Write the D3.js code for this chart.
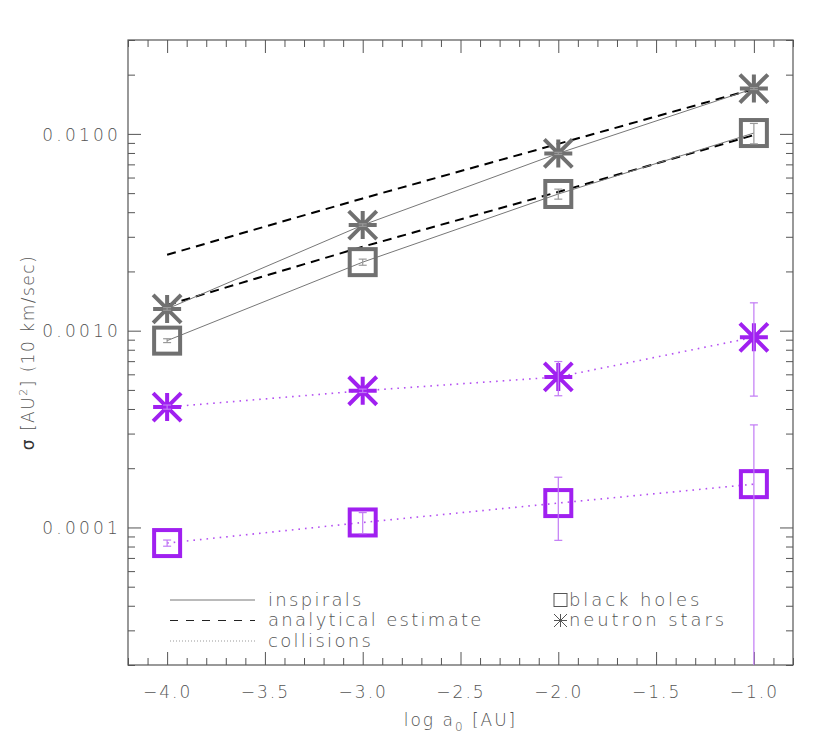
<!DOCTYPE html>
<html><head><meta charset="utf-8">
<script src="https://cdn.jsdelivr.net/npm/d3@7"></script>
<style>
body{margin:0;background:#fff}
text{font-family:"DejaVu Sans",sans-serif;font-weight:200;fill:#555;}
</style>
</head><body>
<svg id="c" width="830" height="748"></svg>
<script>
// ---- data ----
const logA = [-4, -3, -2, -1];
const bhInspiral    = [0.00089, 0.00223, 0.00495, 0.0101];
const bhInspiralErr = [0.00002, 0.00008, 0.00029, 0.0012];
const nsInspiral    = [0.00129, 0.00344, 0.00796, 0.0170];
const nsInspiralErr = [0.00002, 0.00005, 0.0001, 0.0002];
const analyticUpper = [0.00243, 0.0047, 0.0089, 0.0169];
const analyticLower = [0.00135, 0.00267, 0.00507, 0.00986];
const nsCollision    = [0.000409, 0.000495, 0.000582, 0.000925];
const nsCollisionErr = [0.00001, 0.00001, 0.000115, 0.00046];
const bhCollision    = [0.0000833, 0.000106, 0.000133, 0.000166];
const bhCollisionErr = [0.000003, 0.000013, 0.000047, 0.000166];
const xMajorTicks = [-4.0, -3.5, -3.0, -2.5, -2.0, -1.5, -1.0];
const yMajorTicks = [0.0001, 0.001, 0.01];
const legendLines = ["inspirals", "analytical estimate", "collisions"];
const legendMarkers = ["black holes", "neutron stars"];

const GRAY = "#707070", PURPLE = "#a020f0";
const L = 128, R = 793, T = 40, B = 665;
const svg = d3.select("#c");
const x = d3.scaleLinear().domain([-4.2, -0.8]).range([L, R]);
const y = d3.scaleLog().domain([2e-5, 0.03]).range([B, T]);

const xMinor = d3.range(-42, -7).map(v => v / 10).filter(v => !xMajorTicks.some(m => Math.abs(m - v) < 1e-9));
const yMinor = [];
[1e-5, 1e-4, 1e-3, 1e-2].forEach(d => { for (let k = 2; k <= 9; k++) { const v = k * d; if (v >= 2e-5 && v <= 0.03 && !yMajorTicks.includes(v)) yMinor.push(v); } });

const axisCol = "#555";
function styleAxis(g) { g.select(".domain").remove(); g.selectAll("line").attr("stroke", axisCol); g.selectAll("text").attr("fill", null).attr("font-family", null).attr("font-size", null); }

// bottom
svg.append("g").attr("transform", `translate(0,${B})`)
  .call(d3.axisBottom(x).tickValues(xMajorTicks).tickSize(-13).tickPadding(-8).tickFormat(d3.format(".1f")))
  .call(styleAxis).selectAll("text").attr("dy", null).attr("y", 33).style("font-size", "17px").style("letter-spacing", "2px");
svg.append("g").attr("transform", `translate(0,${B})`)
  .call(d3.axisBottom(x).tickValues(xMinor).tickSize(-7).tickFormat("")).call(styleAxis);
// top
svg.append("g").attr("transform", `translate(0,${T})`)
  .call(d3.axisTop(x).tickValues(xMajorTicks).tickSize(-13).tickFormat("")).call(styleAxis);
svg.append("g").attr("transform", `translate(0,${T})`)
  .call(d3.axisTop(x).tickValues(xMinor).tickSize(-7).tickFormat("")).call(styleAxis);
// left
svg.append("g").attr("transform", `translate(${L},0)`)
  .call(d3.axisLeft(y).tickValues(yMajorTicks).tickSize(-13).tickPadding(0).tickFormat(d3.format(".4f")))
  .call(styleAxis).selectAll("text").attr("x", -7).attr("dy", "0.36em").style("font-size", "17px").style("letter-spacing", "3.2px");
svg.append("g").attr("transform", `translate(${L},0)`)
  .call(d3.axisLeft(y).tickValues(yMinor).tickSize(-7).tickFormat("")).call(styleAxis);
// right
svg.append("g").attr("transform", `translate(${R},0)`)
  .call(d3.axisRight(y).tickValues(yMajorTicks).tickSize(-13).tickFormat("")).call(styleAxis);
svg.append("g").attr("transform", `translate(${R},0)`)
  .call(d3.axisRight(y).tickValues(yMinor).tickSize(-7).tickFormat("")).call(styleAxis);

svg.append("rect").attr("x", L).attr("y", T).attr("width", R - L).attr("height", B - T)
  .attr("fill", "none").attr("stroke", axisCol).attr("stroke-width", 1.2);

// axis titles
svg.append("text").attr("x", (L + R) / 2).attr("y", 726).attr("text-anchor", "middle")
  .style("font-size", "17px").style("letter-spacing", "2px")
  .call(t => { t.append("tspan").text("log a"); t.append("tspan").attr("dy", 5).style("font-size", "12px").text("0"); t.append("tspan").attr("dy", -5).text(" [AU]"); });
svg.append("text").attr("transform", `translate(34,${(T + B) / 2}) rotate(-90)`).attr("text-anchor", "middle")
  .style("font-size", "17px").style("letter-spacing", "1.5px")
  .call(t => {
    t.append("tspan").style("fill", "#333").style("font-weight", "normal").text("σ ");
    t.append("tspan").text("[AU");
    t.append("tspan").attr("dy", -7).style("font-size", "11px").text("2");
    t.append("tspan").attr("dy", 7).text("] (10 km/sec)");
  });

// clip
svg.append("clipPath").attr("id", "clip").append("rect").attr("x", L).attr("y", T).attr("width", R - L).attr("height", B - T);
const plot = svg.append("g").attr("clip-path", "url(#clip)");

const line = d3.line().x((d, i) => x(logA[i])).y(d => y(d));
// analytical dashed
[analyticUpper, analyticLower].forEach(s => plot.append("path").attr("d", line(s)).attr("fill", "none")
  .attr("stroke", "#000").attr("stroke-width", 2).attr("stroke-dasharray", "9,6"));
// inspirals solid
[nsInspiral, bhInspiral].forEach(s => plot.append("path").attr("d", line(s)).attr("fill", "none")
  .attr("stroke", "#777").attr("stroke-width", 1));
// collisions dotted
[nsCollision, bhCollision].forEach(s => plot.append("path").attr("d", line(s)).attr("fill", "none")
  .attr("stroke", "#b450f2").attr("stroke-width", 1.6).attr("stroke-dasharray", "1.6,5"));

const star = r => `M${-r},0H${r}M0,${-r}V${r}M${-r},${-r}L${r},${r}M${-r},${r}L${r},${-r}`;
function markers(vals, kind, col) {
  vals.forEach((v, i) => {
    const g = plot.append("g").attr("transform", `translate(${x(logA[i])},${y(v)})`);
    if (kind === "sq") g.append("rect").attr("x", -13).attr("y", -13).attr("width", 26).attr("height", 26)
      .attr("fill", "none").attr("stroke", col).attr("stroke-width", 4);
    else g.append("path").attr("d", star(14)).attr("stroke", col).attr("stroke-width", 4).attr("fill", "none");
  });
}
function errbars(vals, errs, col) {
  vals.forEach((v, i) => {
    const cx = x(logA[i]);
    const y0 = y(Math.max(v - errs[i], 1.9e-5)), y1 = y(v + errs[i]);
    const g = plot.append("g").attr("stroke", col).attr("stroke-width", 1.2);
    g.append("line").attr("x1", cx).attr("x2", cx).attr("y1", y0).attr("y2", y1);
    g.append("line").attr("x1", cx - 4).attr("x2", cx + 4).attr("y1", y0).attr("y2", y0);
    g.append("line").attr("x1", cx - 4).attr("x2", cx + 4).attr("y1", y1).attr("y2", y1);
  });
}
markers(bhInspiral, "sq", GRAY);
markers(nsInspiral, "star", GRAY);
markers(bhCollision, "sq", PURPLE);
markers(nsCollision, "star", PURPLE);
errbars(bhInspiral, bhInspiralErr, "#999");
errbars(nsInspiral, nsInspiralErr, "#999");
errbars(bhCollision, bhCollisionErr, "#c27af5");
errbars(nsCollision, nsCollisionErr, "#c27af5");

// legend
const leg = svg.append("g");
const lineStyles = [{c: "#777", w: 1, d: null}, {c: "#222", w: 1, d: "8,8"}, {c: "#999", w: 1, d: "1,2"}];
legendLines.forEach((t, i) => {
  const yy = 600 + i * 20.5;
  leg.append("line").attr("x1", 170).attr("x2", 255).attr("y1", yy).attr("y2", yy)
    .attr("stroke", lineStyles[i].c).attr("stroke-width", lineStyles[i].w).attr("stroke-dasharray", lineStyles[i].d);
  leg.append("text").attr("x", 268).attr("y", yy).attr("dy", "0.32em").style("font-size", "18px").style("letter-spacing", "2.3px").text(t);
});
legendMarkers.forEach((t, i) => {
  const yy = 600 + i * 20.5;
  if (i === 0) leg.append("rect").attr("x", 554).attr("y", yy - 6.5).attr("width", 13).attr("height", 13).attr("fill", "none").attr("stroke", "#555").attr("stroke-width", 1);
  else leg.append("path").attr("transform", `translate(560.5,${yy})`).attr("d", star(6.5)).attr("stroke", "#555").attr("stroke-width", 1).attr("fill", "none");
  leg.append("text").attr("x", 569).attr("y", yy).attr("dy", "0.32em").style("font-size", "18px").style("letter-spacing", "2.9px").text(t);
});
</script>
</body></html>
